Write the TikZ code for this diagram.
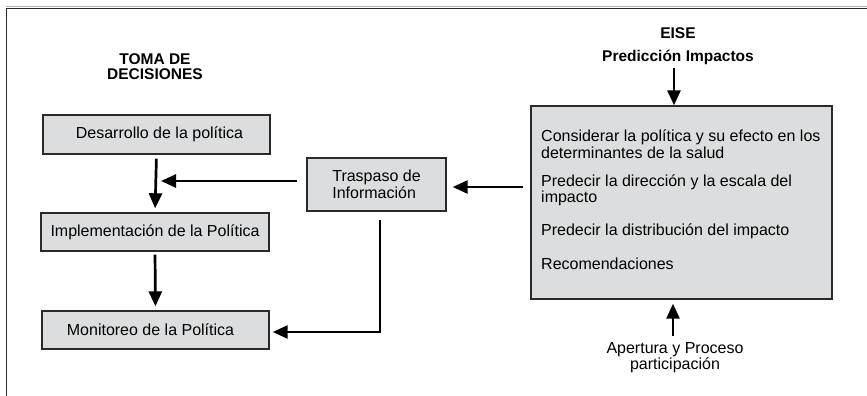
\documentclass[tikz,border=0pt]{standalone}
\usepackage{fontspec}
\setmainfont{Liberation Sans}
\usetikzlibrary{arrows.meta}
\definecolor{boxgray}{HTML}{DCDDDE}
\definecolor{edge}{HTML}{2A2A2A}
\tikzset{
  pbox/.style={draw=edge, line width=1.4pt, fill=boxgray, inner sep=0pt, font=\fontsize{16}{16.5}\selectfont},
  arr/.style={draw=black, line width=2.7pt, -{Triangle[length=15pt,width=13pt]}},
  head/.style={font=\fontsize{15.5}{15}\selectfont\bfseries, align=center, inner sep=0pt},
  txt/.style={font=\fontsize{16}{16.5}\selectfont, align=left, inner sep=0pt, anchor=west},
}
\begin{document}
\begin{tikzpicture}[x=1pt,y=-1pt]
\useasboundingbox (0,0) rectangle (867,396);
% frame
\draw[line width=1pt, black!30] (6,6.5) -- (867,6.5);
\draw[line width=1.8pt, edge] (867,8.5) -- (6.5,8.5) -- (6.5,396);
% headings
\node[head] (toma) at (155,67) {TOMA DE\\DECISIONES};
\node[head] (eise) at (678,33) {EISE};
\node[head] (pred) at (678,57) {Predicción Impactos};
% left boxes
\node[pbox, minimum width=227pt, minimum height=39pt] (d1) at (156.5,134.5) {\hspace*{6pt}Desarrollo de la política};
\node[pbox, minimum width=228pt, minimum height=38pt] (d2) at (155,232) {Implementación de la Política};
\node[pbox, minimum width=227pt, minimum height=38pt] (d3) at (155.5,330) {\hspace*{-10pt}Monitoreo de la Política};
% traspaso
\node[pbox, minimum width=139pt, minimum height=53pt, align=left] (tr) at (376.5,184.5) {Traspaso de\\Información};
% big box
\node[pbox, minimum width=301pt, minimum height=193pt] (big) at (681.5,202.5) {};
\node[txt] (c1) at (541,144) {Considerar la política y su efecto en los\\determinantes de la salud};
\node[txt] (c2) at (541,190.5) {Predecir la dirección y la escala del\\impacto};
\node[txt] (c3) at (541,231) {Predecir la distribución del impacto};
\node[txt] (c4) at (541,264) {Recomendaciones};
% bottom label
\node[font=\fontsize{16}{16}\selectfont, align=center, inner sep=0pt] (ap) at (675,358) {Apertura y Proceso\\participación};
% arrows
\draw[arr, shorten <=4pt, shorten >=4pt] (d1.south) -- (d2.north);
\draw[arr, shorten <=3pt, shorten >=4pt] (d2.south) -- (d3.north);
\draw[arr] ([xshift=-9pt,yshift=3.5pt]tr.west) -- ([xshift=4.5pt,yshift=3.5pt]tr.west -| d1.south);
\draw[arr] ([xshift=-7pt,yshift=-2.5pt]tr.east -| big.west) -- ([xshift=6pt,yshift=-2.5pt]tr.east);
\draw[arr] ([xshift=3.5pt,yshift=-8pt]tr.south) |- ([xshift=3pt,yshift=-2pt]d3.east);
\draw[arr, shorten <=4pt] ([xshift=-4pt]pred.south) -- ([xshift=-7.5pt]big.north);
\draw[arr, shorten <=7pt, shorten >=4pt] ([xshift=-2pt]ap.north) -- ([xshift=-8.5pt]big.south);
\end{tikzpicture}
\end{document}
